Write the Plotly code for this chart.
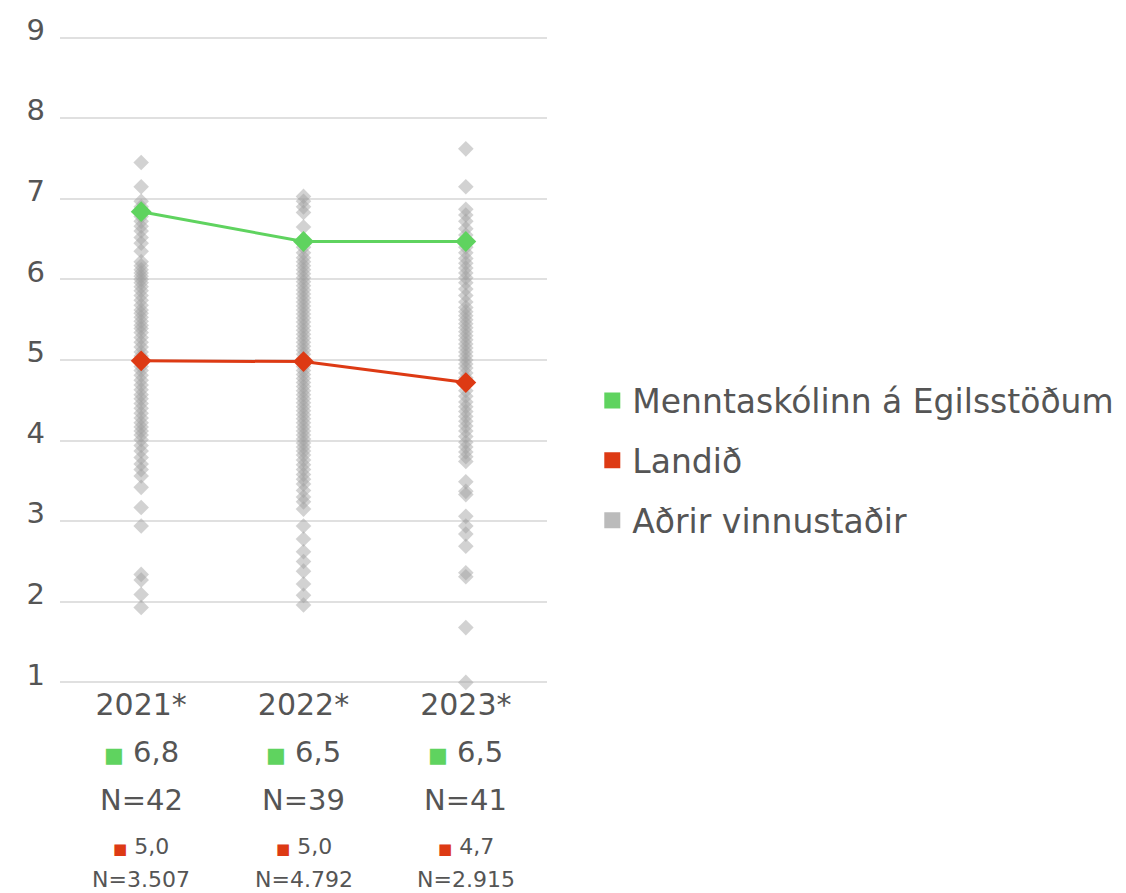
import plotly.graph_objects as go

years = ["2021*", "2022*", "2023*"]
school_name = "Menntaskólinn á Egilsstöðum"
country_name = "Landið"
others_name = "Aðrir vinnustaðir"

school_values = [6.84, 6.47, 6.47]
school_labels = ["6,8", "6,5", "6,5"]
school_n = ["N=42", "N=39", "N=41"]

country_values = [4.99, 4.98, 4.72]
country_labels = ["5,0", "5,0", "4,7"]
country_n = ["N=3.507", "N=4.792", "N=2.915"]

others_2021 = [7.45, 7.15, 6.97, 6.90, 6.83, 6.78, 6.72, 6.66, 6.60, 6.52, 6.45, 6.35,
               6.22, 6.17, 6.12, 6.08, 6.04, 6.00, 5.96, 5.91, 5.86, 5.80, 5.74, 5.68,
               5.62, 5.58, 5.53, 5.48, 5.43, 5.39, 5.34, 5.28, 5.22, 5.16, 5.10, 5.05,
               4.98, 4.92, 4.87, 4.81, 4.75, 4.69, 4.63, 4.57, 4.52, 4.46, 4.40, 4.34,
               4.28, 4.22, 4.17, 4.12, 4.07, 4.01, 3.94, 3.87, 3.79, 3.71, 3.64, 3.56,
               3.42, 3.17, 2.94, 2.34, 2.27, 2.09, 1.93]
others_2022 = [7.03, 6.97, 6.90, 6.83, 6.65, 6.40, 6.33, 6.27, 6.22, 6.17, 6.12, 6.07,
               6.02, 5.97, 5.92, 5.87, 5.82, 5.77, 5.72, 5.67, 5.62, 5.57, 5.52, 5.47,
               5.42, 5.37, 5.32, 5.27, 5.22, 5.17, 5.12, 5.07, 5.02, 4.97, 4.92, 4.87,
               4.82, 4.77, 4.72, 4.67, 4.62, 4.57, 4.52, 4.47, 4.42, 4.37, 4.32, 4.27,
               4.22, 4.17, 4.12, 4.07, 4.02, 3.97, 3.92, 3.87, 3.82, 3.76, 3.70, 3.64,
               3.58, 3.52, 3.46, 3.38, 3.30, 3.24, 3.15, 2.94, 2.78, 2.62, 2.50, 2.38,
               2.22, 2.08, 1.96]
others_2023 = [7.62, 7.15, 6.87, 6.80, 6.72, 6.63, 6.55, 6.40, 6.33, 6.26, 6.20, 6.14,
               6.08, 6.02, 5.96, 5.88, 5.80, 5.72, 5.65, 5.60, 5.55, 5.50, 5.45, 5.40,
               5.35, 5.30, 5.25, 5.20, 5.15, 5.10, 5.05, 5.00, 4.95, 4.90, 4.84, 4.78,
               4.70, 4.62, 4.55, 4.48, 4.42, 4.36, 4.30, 4.24, 4.18, 4.12, 4.05, 3.98,
               3.92, 3.86, 3.80, 3.74, 3.49, 3.37, 3.33, 3.06, 2.94, 2.84, 2.69, 2.36,
               2.31, 1.68, 1.00]

y_ticks = [1, 2, 3, 4, 5, 6, 7, 8, 9]

GREEN = "#5fd35f"
RED = "#dd3a14"
GREY_LEG = "#bbbbbb"
TEXT = "#555555"
FONT = "DejaVu Sans"

others_all = [others_2021, others_2022, others_2023]
gx, gy = [], []
for yr, vals in zip(years, others_all):
    gx += [yr] * len(vals)
    gy += vals

fig = go.Figure()
fig.add_trace(go.Scatter(
    x=gx, y=gy, mode="markers", showlegend=False, cliponaxis=False,
    marker=dict(symbol="diamond", size=12, color="rgba(160,160,160,0.47)", line=dict(width=0)),
    hoverinfo="skip"))
fig.add_trace(go.Scatter(
    x=years, y=country_values, mode="lines+markers", showlegend=False,
    line=dict(color=RED, width=3),
    marker=dict(symbol="diamond", size=16, color=RED)))
fig.add_trace(go.Scatter(
    x=years, y=school_values, mode="lines+markers", showlegend=False,
    line=dict(color=GREEN, width=3),
    marker=dict(symbol="diamond", size=16, color=GREEN)))

# legend entries
for name, col, grp in [(school_name, GREEN, "a"), (country_name, RED, "b"), (others_name, GREY_LEG, "c")]:
    fig.add_trace(go.Scatter(
        x=[None], y=[None], mode="markers", name=name, legendgroup=grp,
        marker=dict(symbol="square", size=16, color=col)))

ann = []
for i, yr in enumerate(years):
    ann.append(dict(x=yr, xref="x", y=0, yref="paper", yanchor="middle", yshift=-68,
                    showarrow=False,
                    text=f'<span style="color:{GREEN};font-size:21px">■</span> {school_labels[i]}',
                    font=dict(family=FONT, size=29, color=TEXT)))
    ann.append(dict(x=yr, xref="x", y=0, yref="paper", yanchor="middle", yshift=-116,
                    showarrow=False, text=school_n[i],
                    font=dict(family=FONT, size=29, color=TEXT)))
    ann.append(dict(x=yr, xref="x", y=0, yref="paper", yanchor="middle", yshift=-162,
                    showarrow=False,
                    text=f'<span style="color:{RED};font-size:15px">■</span> {country_labels[i]}',
                    font=dict(family=FONT, size=22, color=TEXT)))
    ann.append(dict(x=yr, xref="x", y=0, yref="paper", yanchor="middle", yshift=-195,
                    showarrow=False, text=country_n[i],
                    font=dict(family=FONT, size=22, color=TEXT)))

fig.update_layout(
    width=1126, height=893,
    margin=dict(l=52, r=587, t=28, b=217, autoexpand=False),
    paper_bgcolor="white", plot_bgcolor="white",
    font=dict(family=FONT, color=TEXT),
    showlegend=True,
    legend=dict(x=1.093, xanchor="left", y=0.345, yanchor="middle",
                font=dict(family=FONT, size=33, color=TEXT),
                tracegroupgap=14, bgcolor="rgba(0,0,0,0)"),
    annotations=ann,
)
fig.update_xaxes(type="category", categoryorder="array", categoryarray=years,
                 range=[-0.5, 2.5], showgrid=False, zeroline=False, showline=False,
                 automargin=False,
                 ticks="", tickfont=dict(family=FONT, size=30, color=TEXT))
fig.update_yaxes(range=[0.98, 9.02], tickvals=y_ticks, showgrid=True, gridcolor="#e0e0e0",
                 gridwidth=2, zeroline=False, showline=False, ticks="", automargin=False,
                 ticklabelstandoff=14, ticklabelshift=-8,
                 tickfont=dict(family=FONT, size=29, color=TEXT))

fig.write_html("out.html")
